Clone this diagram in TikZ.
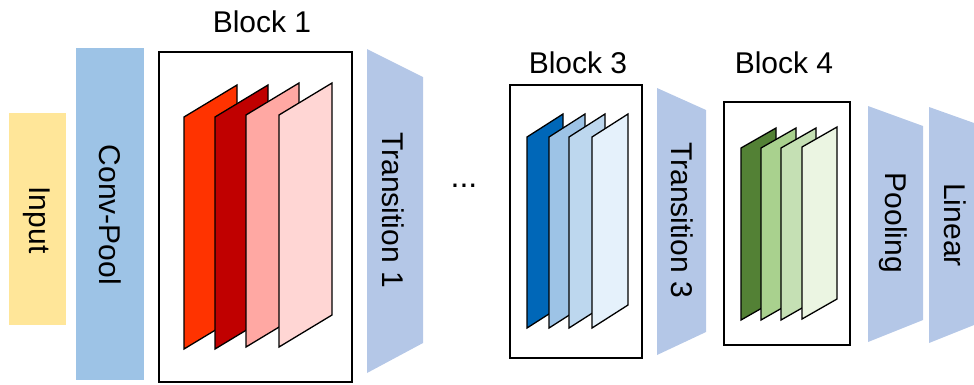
\documentclass[tikz,border=0pt]{standalone}
\usepackage{fontspec}
\setmainfont{Liberation Sans}
\definecolor{inputc}{HTML}{FFE699}
\definecolor{convc}{HTML}{9DC3E6}
\definecolor{transc}{HTML}{B4C7E7}
\definecolor{redA}{HTML}{FF3300}
\definecolor{redB}{HTML}{C00000}
\definecolor{redC}{HTML}{FFA8A3}
\definecolor{redD}{HTML}{FFD6D4}
\definecolor{blueA}{HTML}{0067B8}
\definecolor{blueB}{HTML}{9DC3E6}
\definecolor{blueC}{HTML}{BDD7EE}
\definecolor{blueD}{HTML}{E5F1FB}
\definecolor{greenA}{HTML}{538135}
\definecolor{greenB}{HTML}{A9D18E}
\definecolor{greenC}{HTML}{C5E0B4}
\definecolor{greenD}{HTML}{EBF5E2}
\newcommand\mysheet[6]{%
  \draw[sheetline, fill=#1] (#2,#3) -- ++(#4,-#5) -- ++(0,#6) -- ++(-#4,#5) -- cycle;}
\tikzset{
  sheetline/.style={draw=black, line width=1.3pt, line join=miter},
  blockbox/.style={draw=black, line width=2.5pt, fill=white},
  lbl/.style={font=\fontsize{30}{36}\selectfont, text=black, inner sep=0pt},
  vlbl/.style={lbl, rotate=-90},
}
\begin{document}
\begin{tikzpicture}[x=1pt,y=-1pt]
\useasboundingbox (0,0) rectangle (974,384);
% input and conv-pool
\fill[inputc] (9,113) rectangle (66,325);
\node[vlbl] (input) at (37,220) {Input};
\fill[convc] (76,48) rectangle (144,380);
\node[vlbl] (conv) at (110,215) {Conv-Pool};
% block 1
\draw[blockbox] (159,52) rectangle (352,382);
\node[lbl] (b1) at (262,22) {Block 1};
\mysheet{redA}{184}{117}{53}{32}{232}
\mysheet{redB}{215}{117}{53}{32}{232}
\mysheet{redC}{246}{115}{53}{32}{232}
\mysheet{redD}{279}{115}{53}{32}{232}
% transition 1
\fill[transc] (367,49) -- (423,77) -- (423,343) -- (367,373) -- cycle;
\node[vlbl] (t1) at (393,210) {Transition 1};
\node[lbl, font=\fontsize{32}{36}\selectfont] (dots) at (464,186) {...};
% block 3
\draw[blockbox] (510,85) rectangle (642,358);
\node[lbl] (b3) at (578,63) {Block 3};
\mysheet{blueA}{527}{137}{36}{23}{191}
\mysheet{blueB}{549}{137}{36}{23}{191}
\mysheet{blueC}{569}{137}{36}{23}{191}
\mysheet{blueD}{592}{137}{36}{23}{191}
% transition 3
\fill[transc] (657,88) -- (706,110) -- (706,332) -- (657,355) -- cycle;
\node[vlbl] (t3) at (682,220) {Transition 3};
% block 4
\draw[blockbox] (724,102) rectangle (850,345);
\node[lbl] (b4) at (784,63) {Block 4};
\mysheet{greenA}{741}{148}{35}{20}{172}
\mysheet{greenB}{761}{148}{35}{20}{172}
\mysheet{greenC}{781}{148}{35}{20}{172}
\mysheet{greenD}{802}{147}{35}{20}{172}
% pooling and linear
\fill[transc] (868,106) -- (923,126) -- (923,320) -- (868,342) -- cycle;
\node[vlbl] (pool) at (893,223) {Pooling};
\fill[transc] (929,107) -- (974,123) -- (974,325) -- (929,343) -- cycle;
\node[vlbl] (lin) at (955,225) {Linear};
\end{tikzpicture}
\end{document}
